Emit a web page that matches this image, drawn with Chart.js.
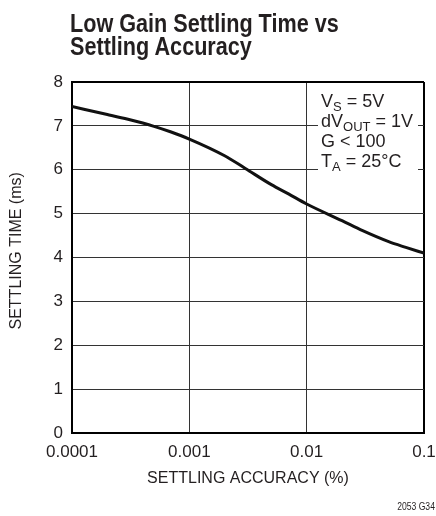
<!DOCTYPE html>
<html>
<head>
<meta charset="utf-8">
<script src="https://cdn.jsdelivr.net/npm/chart.js@4.4.1/dist/chart.umd.min.js"></script>
<style>
  html, body { margin: 0; padding: 0; background: #fff; }
  #wrap { position: relative; width: 436px; height: 516px; }
  #title {
    position: absolute; left: 70px; top: 12px;
    font: bold 25px "Liberation Sans", sans-serif;
    line-height: 23px; color: #231f20; white-space: nowrap;
    transform: scaleX(0.865); transform-origin: 0 0;
  }
  #note {
    position: absolute; right: 1px; top: 501px;
    font: 10px "Liberation Sans", sans-serif; color: #231f20;
    transform: scaleX(0.86); transform-origin: 100% 0;
  }
  canvas { position: absolute; left: 0; top: 0; }
</style>
</head>
<body>
<div id="wrap">
  <canvas id="chart" width="436" height="516"></canvas>
  <div id="title">Low Gain Settling Time vs<br>Settling Accuracy</div>
  <div id="note">2053 G34</div>
</div>
<script>
"use strict";

/* data */
var accuracy    = [0.0001, 0.0002, 0.0003, 0.0005, 0.0007, 0.001, 0.002, 0.003, 0.005, 0.007, 0.01, 0.02, 0.03, 0.05, 0.07, 0.1];
var settleTime  = [7.44,   7.26,   7.15,   6.99,   6.86,   6.70,  6.32,  6.03,  5.66,  5.45,  5.22, 4.84, 4.61, 4.36, 4.23, 4.10];
var xTickValues = [0.0001, 0.001, 0.01, 0.1];
var xTickLabels = ['0.0001', '0.001', '0.01', '0.1'];
var yTickValues = [0, 1, 2, 3, 4, 5, 6, 7, 8];

var FONT = '"Liberation Sans", sans-serif';
var INK  = '#231f20';

var points = accuracy.map(function(a, i) { return { x: a, y: settleTime[i] }; });

/* conditions box, top right of the plot */
var condLines = [
  [['V', false], ['S', true], [' = 5V', false]],
  [['dV', false], ['OUT', true], [' = 1V', false]],
  [['G < 100', false]],
  [['T', false], ['A', true], [' = 25°C', false]]
];

var conditionsPlugin = {
  id: 'conditions',
  afterDatasetsDraw: function(chart) {
    var ctx = chart.ctx, area = chart.chartArea;
    var x0 = area.right - 103, y0 = area.top + 25;
    ctx.save();
    ctx.fillStyle = '#fff';
    ctx.fillRect(x0 - 3, area.top + 6, 100, 86);
    ctx.fillStyle = INK;
    ctx.textBaseline = 'alphabetic';
    condLines.forEach(function(line, i) {
      var x = x0, y = y0 + i * 20;
      line.forEach(function(part) {
        ctx.font = (part[1] ? '13px ' : '18px ') + FONT;
        ctx.fillText(part[0], x, part[1] ? y + 4 : y);
        x += ctx.measureText(part[0]).width;
      });
    });
    ctx.restore();
  }
};

var edge = function(ctx, last) {
  return ctx.index === last ? 2 : 1;
};

new Chart(document.getElementById('chart'), {
  type: 'line',
  data: {
    datasets: [{
      data: points,
      borderColor: '#111',
      borderWidth: 3,
      pointRadius: 0,
      fill: false,
      cubicInterpolationMode: 'monotone'
    }]
  },
  options: {
    responsive: false,
    animation: false,
    layout: { padding: { top: 82, left: 0, right: 12, bottom: 28 } },
    plugins: { legend: { display: false }, tooltip: { enabled: false } },
    scales: {
      x: {
        type: 'logarithmic',
        min: 0.0001, max: 0.1,
        afterBuildTicks: function(s) { s.ticks = xTickValues.map(function(v) { return { value: v }; }); },
        afterFit: function(s) { s.height = 55; s.paddingLeft = 0; s.paddingRight = 0; },
        grid: {
          color: function(c) { return c.index === xTickValues.length - 1 ? '#000' : '#333'; },
          lineWidth: function(c) { return edge(c, xTickValues.length - 1); },
          drawTicks: false
        },
        border: { color: '#000', width: 2 },
        ticks: {
          color: INK, padding: 9, maxRotation: 0, autoSkip: false,
          font: { family: FONT, size: 17 },
          callback: function(v) { var i = xTickValues.indexOf(v); return i < 0 ? null : xTickLabels[i]; }
        },
        title: {
          display: true, text: 'SETTLING ACCURACY (%)', color: INK,
          font: { family: FONT, size: 16 }, padding: { top: 0, bottom: 0 }
        }
      },
      y: {
        min: 0, max: 8,
        afterBuildTicks: function(s) { s.ticks = yTickValues.map(function(v) { return { value: v }; }); },
        afterFit: function(s) { s.width = 72; },
        grid: {
          color: function(c) { return c.index === yTickValues.length - 1 ? '#000' : '#333'; },
          lineWidth: function(c) { return edge(c, yTickValues.length - 1); },
          drawTicks: false
        },
        border: { color: '#000', width: 2 },
        ticks: { color: INK, padding: 9, font: { family: FONT, size: 17 } },
        title: {
          display: true, text: '   SETTLING TIME (ms)', color: INK,
          font: { family: FONT, size: 16 }, padding: { top: 7, bottom: 0 }
        }
      }
    }
  },
  plugins: [conditionsPlugin]
});
</script>
</body>
</html>
